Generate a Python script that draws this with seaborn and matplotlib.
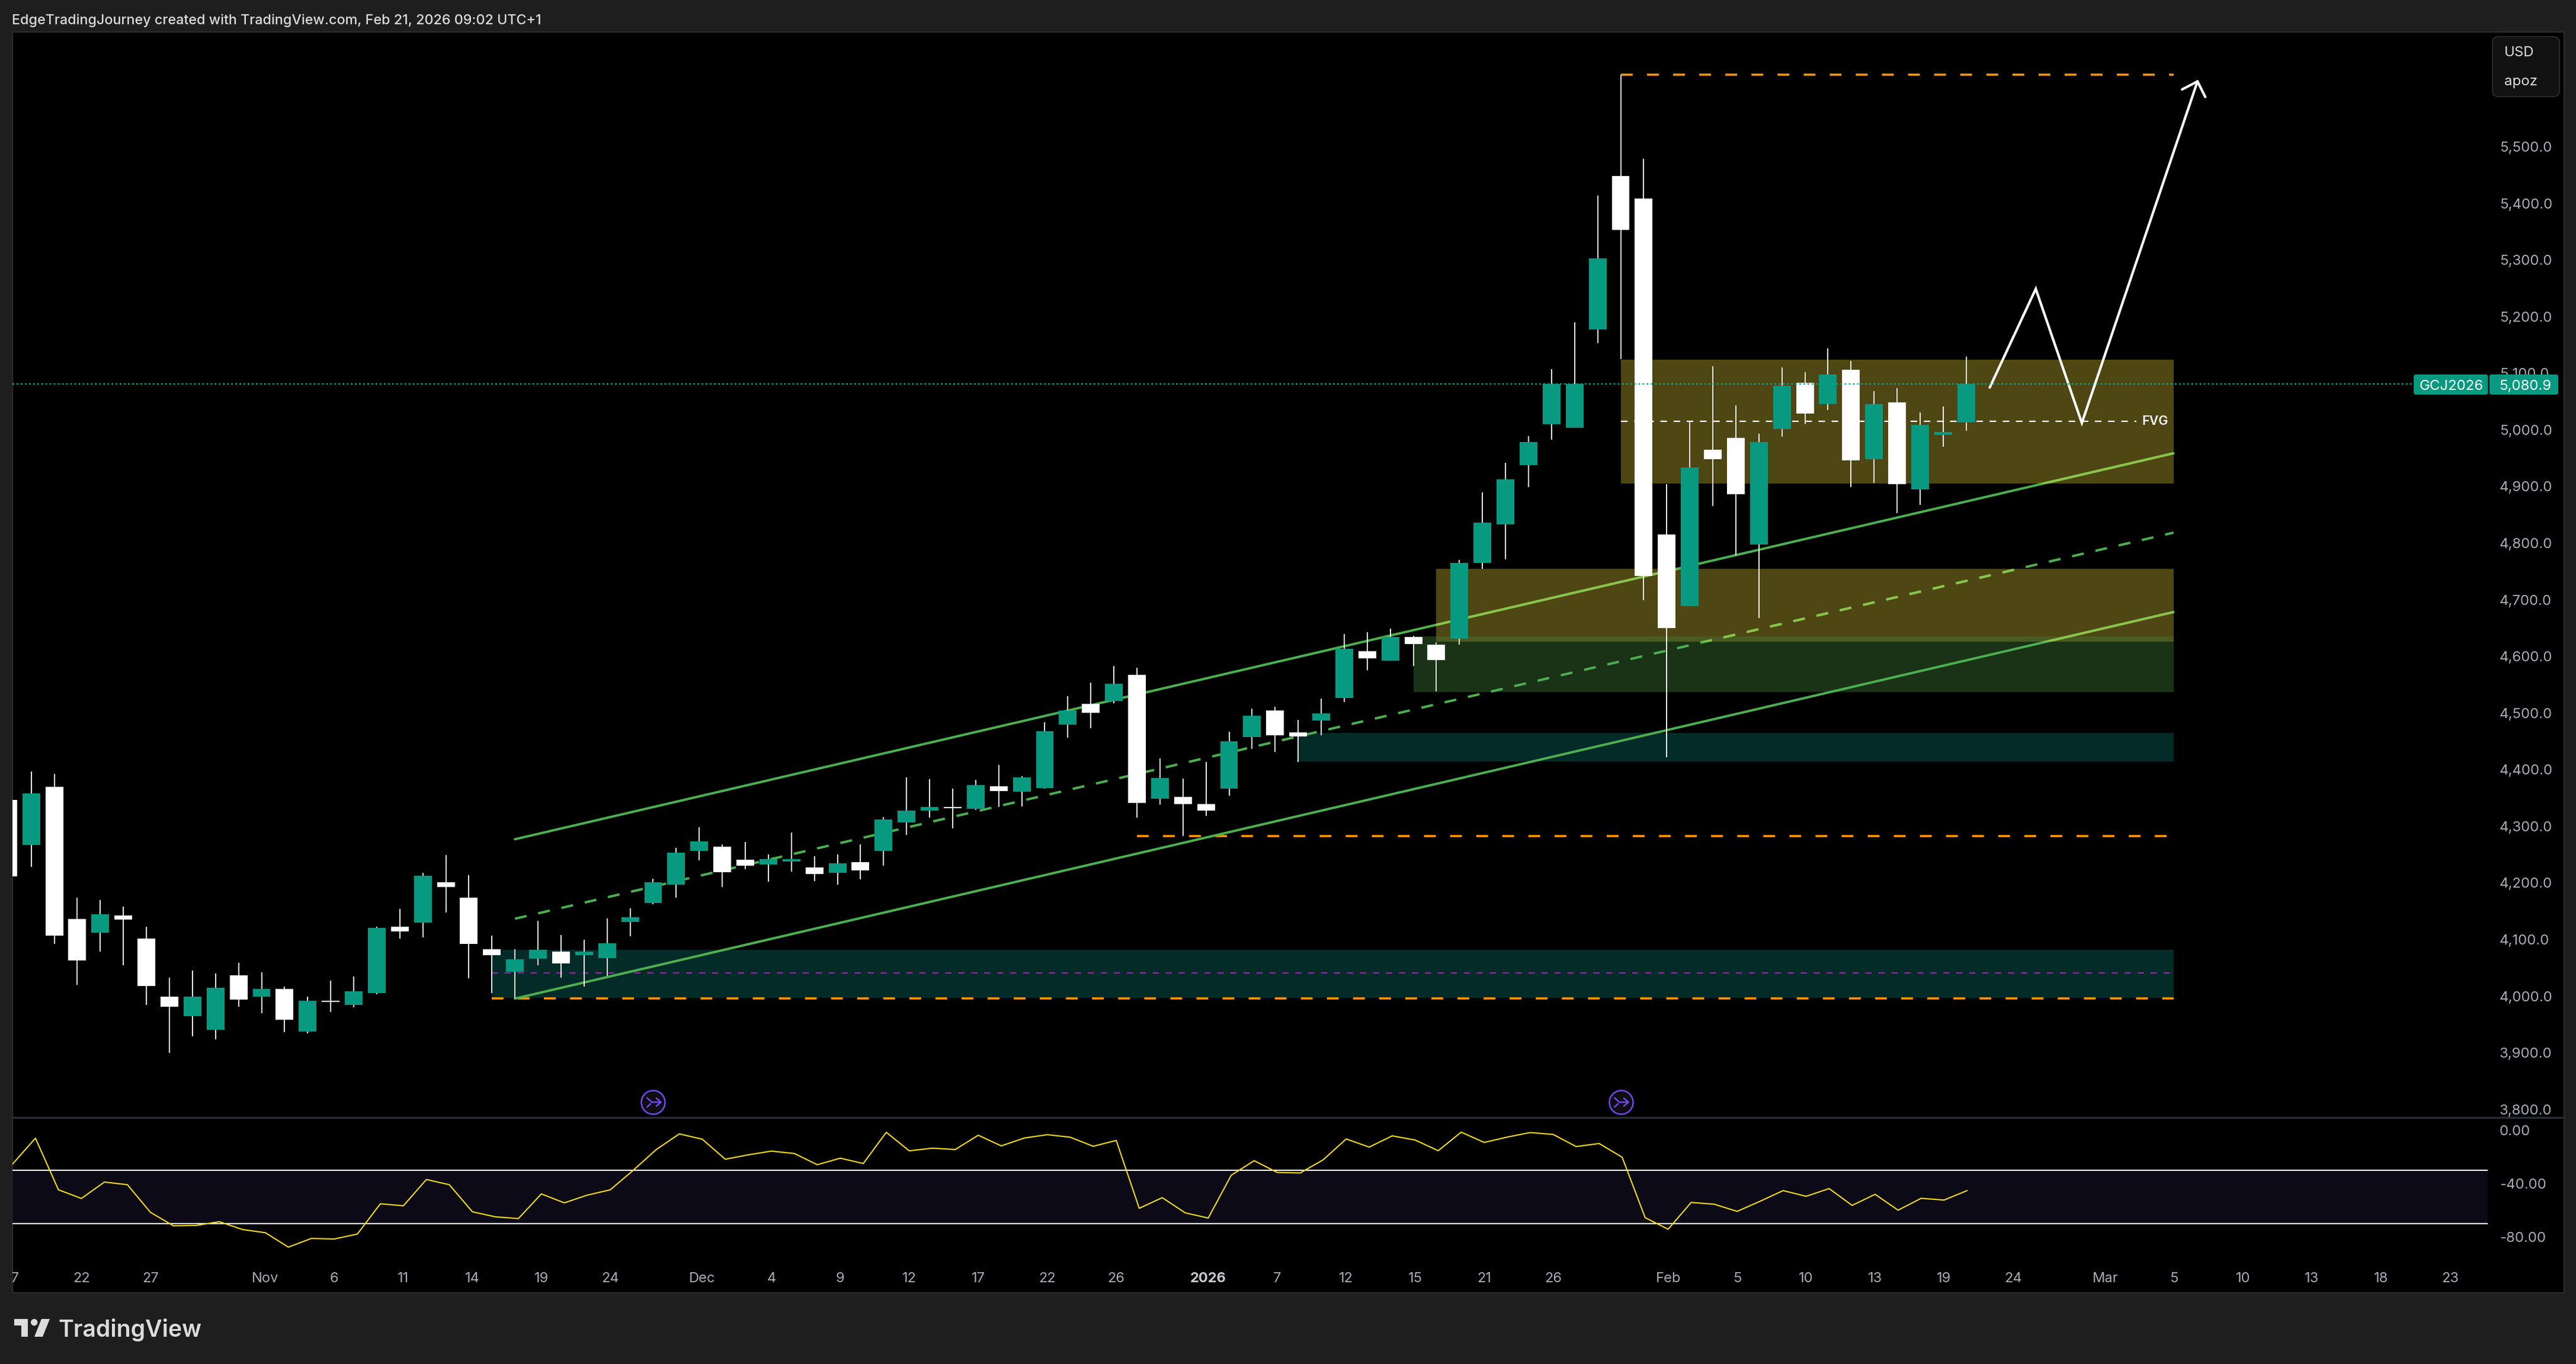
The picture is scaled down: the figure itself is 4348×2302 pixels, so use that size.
import numpy as np
import matplotlib
matplotlib.use("Agg")
import matplotlib.pyplot as plt
import matplotlib.transforms as mtrans
from matplotlib.patches import Rectangle, FancyBboxPatch, Circle, Polygon
from matplotlib.lines import Line2D
import seaborn as sns

W, H = 4348, 2302
DPI = 100

# ------------------------------------------------------------------ data
first_bar = -1
body_top = [4346.3, 4358.0, 4369.2, 4135.9, 4144.5, 4142.3, 4101.2, 3998.7, 3998.7, 4014.7,
            4036.6, 4012.6, 4012.6, 3991.8, 3991.8, 4008.3, 4120.4, 4122.6, 4212.3, 4201.1,
            4173.8, 4082.5, 4064.9, 4081.5, 4078.3, 4078.3, 4093.2, 4139.1, 4201.1, 4253.4,
            4273.1, 4263.5, 4240.6, 4241.6, 4241.6, 4227.2, 4234.0, 4236.2, 4311.5, 4327.5,
            4333.4, 4333.4, 4372.4, 4370.2, 4385.7, 4467.4, 4504.2, 4516.0, 4551.2, 4567.2,
            4385.2, 4351.5, 4338.7, 4449.8, 4494.6, 4504.2, 4465.2, 4498.9, 4613.1, 4608.9,
            4634.0, 4634.0, 4620.6, 4764.8, 4835.8, 4912.6, 4978.5, 5081.1, 5081.1, 5302.2,
            5448.2, 5408.2, 4815.0, 4933.4, 4964.3, 4985.2, 4978.5, 5077.8, 5082.8, 5097.8,
            5106.1, 5045.2, 5048.6, 5008.5, 4996.0, 5080.9]
body_bot = [4211.2, 4266.7, 4106.6, 4062.8, 4111.9, 4134.9, 4018.0, 3981.0, 3964.5, 3940.5,
            3993.4, 3998.7, 3958.1, 3937.3, 3989.7, 3984.3, 4005.1, 4114.0, 4129.5, 4192.5,
            4092.2, 4071.9, 4043.0, 4066.0, 4057.4, 4071.9, 4067.0, 4130.6, 4164.2, 4196.8,
            4256.0, 4218.7, 4229.9, 4232.0, 4237.4, 4215.5, 4217.5, 4221.8, 4256.0, 4306.7,
            4327.5, 4331.8, 4330.7, 4361.7, 4360.6, 4367.0, 4479.1, 4500.0, 4520.8, 4340.8,
            4348.3, 4338.7, 4327.5, 4366.0, 4457.2, 4460.5, 4458.3, 4486.6, 4526.0, 4596.0,
            4592.3, 4621.2, 4593.4, 4630.8, 4764.9, 4833.3, 4937.6, 5010.2, 5003.5, 5177.0,
            5353.1, 4742.3, 4649.7, 4688.1, 4947.6, 4886.7, 4797.4, 5001.0, 5028.5, 5045.2,
            4945.9, 4947.6, 4904.2, 4895.0, 4991.0, 5012.7]
wick_high = [4346.3, 4396.5, 4392.2, 4173.8, 4170.0, 4157.8, 4122.6, 4032.4, 4045.2, 4039.8,
             4058.5, 4042.0, 4016.9, 3998.7, 4027.0, 4034.5, 4122.6, 4153.5, 4217.6, 4249.1,
             4213.4, 4106.6, 4082.5, 4132.7, 4107.6, 4099.1, 4137.0, 4154.6, 4206.9, 4261.4,
             4298.2, 4267.8, 4272.0, 4250.0, 4288.6, 4247.0, 4250.0, 4267.7, 4315.8, 4385.7,
             4383.0, 4366.0, 4382.0, 4408.1, 4387.8, 4483.4, 4529.3, 4553.4, 4582.7, 4579.5,
             4419.3, 4384.0, 4412.9, 4466.3, 4507.4, 4510.6, 4487.7, 4525.0, 4639.3, 4642.5,
             4648.4, 4636.0, 4624.4, 4770.1, 4889.2, 4941.7, 4989.3, 5107.0, 5189.6, 5413.2,
             5626.8, 5478.3, 4904.2, 5016.0, 5112.0, 5042.7, 4993.5, 5110.3, 5102.0, 5143.7,
             5121.2, 5067.8, 5073.6, 5030.2, 5041.0, 5129.5]
wick_low = [4211.2, 4228.3, 4092.2, 4019.5, 4078.3, 4054.2, 3984.3, 3899.4, 3928.8, 3923.4,
            3981.0, 3969.4, 3936.3, 3934.1, 3971.5, 3980.0, 4003.0, 4101.2, 4103.4, 4147.7,
            4031.3, 4005.1, 3995.5, 4054.2, 4032.4, 4016.9, 4035.6, 4105.5, 4162.1, 4173.8,
            4239.5, 4192.5, 4224.0, 4202.0, 4219.8, 4202.7, 4196.7, 4205.8, 4229.8, 4284.3,
            4314.7, 4296.0, 4328.6, 4334.0, 4334.5, 4366.0, 4456.2, 4472.7, 4516.5, 4314.7,
            4337.7, 4282.1, 4317.9, 4353.7, 4436.4, 4431.0, 4412.9, 4460.5, 4518.6, 4575.2,
            4592.3, 4582.7, 4537.9, 4620.6, 4754.9, 4770.7, 4899.2, 4982.6, 5003.5, 5152.9,
            5124.5, 4699.0, 4421.9, 4688.1, 4865.8, 4778.2, 4668.0, 4987.6, 5010.2, 5034.4,
            4898.4, 4905.9, 4852.5, 4867.5, 4970.0, 4997.7]
is_up = [0, 1, 0, 0, 1, 0, 0, 0, 1, 1,
         0, 1, 0, 1, 0, 1, 1, 0, 1, 0,
         0, 0, 1, 1, 0, 1, 1, 1, 1, 1,
         1, 0, 0, 1, 1, 0, 1, 0, 1, 1,
         1, 0, 1, 0, 1, 1, 1, 0, 1, 0,
         1, 0, 0, 1, 1, 0, 0, 1, 1, 0,
         1, 0, 0, 1, 1, 1, 1, 1, 1, 1,
         0, 0, 0, 1, 0, 0, 1, 1, 0, 1,
         0, 1, 0, 1, 1, 1]

osc = [-25.6, -6.1, -44.8, -51.3, -39.0, -41.0, -61.7, -71.8, -71.5, -68.7,
       -74.6, -77.0, -87.8, -81.3, -81.7, -78.0, -55.3, -56.8, -37.1, -41.0,
       -61.3, -65.1, -66.4, -47.9, -54.6, -48.8, -44.8, -30.1, -14.6, -2.9,
       -6.9, -21.9, -18.6, -15.8, -17.6, -26.0, -21.1, -25.1, -1.7, -15.6,
       -13.6, -14.6, -3.9, -11.9, -6.0, -3.5, -5.4, -12.2, -7.8, -58.7,
       -50.7, -62.1, -66.0, -33.9, -23.0, -31.8, -32.2, -22.3, -6.7, -12.8,
       -4.4, -7.5, -15.5, -1.6, -9.3, -5.3, -1.9, -3.3, -12.4, -10.1,
       -20.4, -65.7, -74.4, -54.3, -55.6, -61.0, -53.4, -45.4, -49.7, -43.9,
       -56.5, -48.2, -60.1, -51.2, -52.5, -45.4]

time_ticks = [-1, 2, 5, 10, 13, 16, 19, 22, 25, 29, 32, 35, 38, 41, 44, 47, 51, 54, 57, 60,
              63, 66, 71, 74, 77, 80, 83, 86, 90, 93, 96, 99, 102, 105]
time_labels = ['17', '22', '27', 'Nov', '6', '11', '14', '19', '24', 'Dec', '4', '9', '12', '17',
               '22', '26', '2026', '7', '12', '15', '21', '26', 'Feb', '5', '10', '13', '19',
               '24', 'Mar', '5', '10', '13', '18', '23']
price_ticks = [3800, 3900, 4000, 4100, 4200, 4300, 4400, 4500, 4600, 4700, 4800, 4900,
               5000, 5100, 5200, 5300, 5400, 5500]
osc_ticks = [0, -40, -80]
last_price = 5080.9

# zones: left bar, low, high (all end at zone_end)
zone_end = 93
fvg_zone = (69, 4905.0, 5123.7)
olive_zone = (61, 4625.5, 4754.0)
green_zone = (60, 4536.5, 4634.8)
teal_zone_mid = (55, 4414.0, 4464.2)
teal_zone_low = (20, 3996.6, 4081.5)

fvg_level = 5015.2
fvg_level_end = 91.4
target_top = (69, 5626.8)
target_mid = (48, 4282.7)
target_low = (20, 3995.5)
purple_level = (20, 4040.4)

chan_x = [21, 93]
chan_upper = [4276.9, 4958.5]
chan_mid = [4136.5, 4818.3]
chan_lower = [3995.5, 4678.1]

arrow_x = [85.02, 87.02, 89.02, 94.04]
arrow_y = [5074.4, 5248.8, 5011.9, 5615.1]
arrow_head_x = [93.37, 94.04, 94.38]
arrow_head_y = [5600.9, 5615.1, 5587.6]
event_bars = [27, 69]
event_price = 3812.6

# ------------------------------------------------------------------ style
TEAL = '#089981'
GREEN = '#4caf50'
LIGHT_GREEN = '#8bc34a'
ORANGE = '#ff9800'
PURPLE = '#9c27b0'
VIOLET = '#7249f5'
OUTER = '#1e1e1e'
AX_TXT = '#a8abb5'
FONT = ['Inter', 'DejaVu Sans']

sns.set_theme(style='dark', rc={'axes.facecolor': 'none', 'figure.facecolor': OUTER,
                                'axes.edgecolor': 'none', 'axes.grid': False})
plt.rcParams['font.family'] = FONT

fig = plt.figure(figsize=(W / DPI, H / DPI), dpi=DPI, facecolor=OUTER)
IDT = mtrans.IdentityTransform()


def fx(x):
    return x / W


def fy(y):
    return 1 - y / H


def axes_at(x0, y0, x1, y1):
    return fig.add_axes([fx(x0), fy(y1), (x1 - x0) / W, (y1 - y0) / H])


def round_box(x0, y0, x1, y1, radius, face, edge, lw, zo):
    fig.add_artist(FancyBboxPatch((x0, H - y1), x1 - x0, y1 - y0,
                                  boxstyle=f'round,pad=0,rounding_size={radius}', transform=IDT,
                                  facecolor=face, edgecolor=edge, lw=lw, zorder=zo))


# black pane behind both axes
fig.add_artist(Rectangle((fx(21), fy(2182)), (4328 - 21) / W, (2182 - 54) / H,
                         transform=fig.transFigure, facecolor='black',
                         edgecolor='#2c2c2c', lw=1.6, zorder=-5))

XL = (-0.815, 106.64)
ax = axes_at(21, 54, 4199, 1886)
ax2 = axes_at(21, 1888, 4199, 2125)
for a in (ax, ax2):
    a.set_facecolor('none')
    a.set_xlim(*XL)
    for s in a.spines.values():
        s.set_visible(False)
ax.set_ylim(3785.5, 5702.4)
ax2.set_ylim(-96.8, 8.5)

xs = np.arange(first_bar, first_bar + len(body_top))
top = np.array(body_top)
bot = np.array(body_bot)
up = np.array(is_up, dtype=bool)


# zones
def zone(z, color, zo=1):
    r = Rectangle((z[0], z[1]), zone_end - z[0], z[2] - z[1], facecolor=color, edgecolor='none', zorder=zo)
    ax.add_patch(r)
    return r


zone(teal_zone_low, '#032b28')
zone(teal_zone_mid, '#032b28')
zone(green_zone, '#1a3316')
olive_r = zone(olive_zone, '#4e4613')
fvg_r = zone(fvg_zone, '#4e4613')
zone((olive_zone[0], olive_zone[1], green_zone[2]), '#4b5a20', zo=1.1)

# levels
ax.plot([purple_level[0], zone_end], [purple_level[1]] * 2, color=PURPLE, lw=1.5,
        dashes=(5, 5.5), zorder=2, dash_capstyle='butt')
for lv in (target_low, target_mid, target_top):
    ax.plot([lv[0], zone_end], [lv[1]] * 2, color=ORANGE, lw=2.6, dashes=(5.5, 6.7),
            zorder=2, dash_capstyle='butt')
ax.plot([fvg_zone[0], fvg_level_end], [fvg_level] * 2, color='white', lw=1.6, dashes=(5, 5),
        zorder=2, dash_capstyle='butt')

# channel
for ys, ds in ((chan_upper, None), (chan_mid, (5, 5)), (chan_lower, None)):
    kw = {'lw': 2.9, 'solid_capstyle': 'round'}
    if ds:
        kw = {'lw': 2.9, 'dashes': ds, 'dash_capstyle': 'butt'}
    ax.plot(chan_x, ys, color=GREEN, zorder=2, **kw)
    for r in (olive_r, fvg_r):
        l2, = ax.plot(chan_x, ys, color=LIGHT_GREEN, zorder=2.1, **kw)
        l2.set_clip_path(r)

# candles
ax.vlines(xs, wick_low, wick_high, color='white', lw=1.3, zorder=3)
colors = [TEAL if u else '#ffffff' for u in up]
ax.bar(xs, np.maximum(top - bot, 2.2), bottom=bot, width=0.77, color=colors, linewidth=0, zorder=3.5)

# projection arrow
ax.plot(arrow_x, arrow_y, color='white', lw=3.0, zorder=4, solid_joinstyle='miter', solid_capstyle='round')
ax.plot(arrow_head_x, arrow_head_y, color='white', lw=3.0, zorder=4, solid_joinstyle='miter', solid_capstyle='round')
ax.text(92.78, fvg_level, 'FVG', color='white', fontsize=15.5, fontweight='semibold', ha='right',
        va='center', zorder=4)

# last price dotted line
ax.axhline(last_price, color='#0aa88e', lw=1.7, dashes=(1.25, 1.7), zorder=5)

# price axis
ax.set_xticks([])
ax.yaxis.tick_right()
ax.set_yticks(price_ticks)
ax.set_yticklabels([f'{p:,.1f}' for p in price_ticks])
ax.tick_params(axis='y', length=0, pad=14.4, labelsize=17.3, labelcolor=AX_TXT)
ax.set_ylabel('')

# oscillator pane
ax2.axhspan(-70, -30, color='#0c0a16', lw=0, zorder=1)
for lv in (-30, -70):
    ax2.axhline(lv, color='white', lw=1.5, zorder=2)
sns.lineplot(x=xs, y=osc, ax=ax2, color='#f7dc18', lw=1.5, zorder=3, errorbar=None)
ax2.yaxis.tick_right()
ax2.set_yticks(osc_ticks)
ax2.set_yticklabels([f'{v:.2f}' for v in osc_ticks])
ax2.tick_params(axis='y', length=0, pad=14.4, labelsize=17.3, labelcolor=AX_TXT)
ax2.set_xticks(time_ticks)
ax2.set_xticklabels(time_labels)
ax2.tick_params(axis='x', length=0, pad=15.5, labelsize=17, labelcolor=AX_TXT)
clipbox = mtrans.Bbox([[21, 0], [W, H]])
for t, s in zip(ax2.get_xticklabels(), time_labels):
    t.set_clip_box(clipbox)
    t.set_clip_on(True)
    if s == '2026':
        t.set_fontweight('bold')
        t.set_color('#c8c9d0')

# separator between panes
fig.add_artist(Line2D([fx(21), fx(4328)], [fy(1886)] * 2, color='#2a2e39', lw=2.2, zorder=2))

# event icons (positions from the bar index)
for b in event_bars:
    ax.scatter([b], [event_price], s=(40 / DPI * 72) ** 2, facecolor='#0d0d12', edgecolor=VIOLET,
               linewidth=1.8, zorder=6, clip_on=False)
    cx, cy = ax.transData.transform((b, event_price))
    for seg in ([(-10.3, 7.3), (-2.3, 0), (13, 0)], [(5.3, 6.7), (13, 0), (5.3, -6.7)], [(-10.3, -8.3), (-4.3, -2.7)]):
        sx, sy = zip(*seg)
        ax.plot(np.array(sx) + cx, np.array(sy) + cy, color=VIOLET, lw=1.8, transform=IDT, zorder=7,
                clip_on=False, solid_joinstyle='miter')


# price badges
def badge(x0, x1, y0, y1, text, cx):
    round_box(x0, y0, x1, y1, 4, TEAL, 'none', 0, 10)
    fig.text(fx(cx), fy((y0 + y1) / 2), text, color='white', fontsize=17.3, ha='center',
             va='center_baseline', zorder=11)


badge(4074, 4199.5, 632, 666, 'GCJ2026', 4137.5)
badge(4202, 4318, 632, 666, f'{last_price:,.1f}', 4262.5)

# currency box
round_box(4207, 62, 4320, 163, 10, '#121212', '#303030', 1.2, 9)
fig.text(fx(4227), fy(89), 'USD', color='#dcdcdc', fontsize=17.3, ha='left', va='center', zorder=11)
fig.text(fx(4227), fy(138), 'apoz', color='#dcdcdc', fontsize=17.3, ha='left', va='center', zorder=11)

# header
fig.text(fx(20), fy(35), 'EdgeTradingJourney created with TradingView.com, Feb 21, 2026 09:02 UTC+1',
         color='#dadada', fontsize=16.8, ha='left', va='center', fontweight='medium')

# logo
LOGO = '#dcdcdc'
T_BLOCK = [(24, 2226), (47.3, 2226), (47.3, 2256), (36, 2256), (36, 2237.3), (24, 2237.3)]
SLASH = [(70, 2226), (84, 2226), (72, 2256), (58, 2256)]
for poly in (T_BLOCK, SLASH):
    fig.add_artist(Polygon([(fx(a), fy(b)) for a, b in poly], closed=True, transform=fig.transFigure,
                           facecolor=LOGO, edgecolor='none'))
fig.add_artist(Circle((57.7, H - 2231.7), 5.7, transform=IDT, facecolor=LOGO, edgecolor='none'))
fig.text(fx(98), fy(2256), 'TradingView', color=LOGO, fontsize=28.2, fontweight='semibold', ha='left', va='baseline')

fig.savefig('out.png', dpi=DPI, facecolor=OUTER)
